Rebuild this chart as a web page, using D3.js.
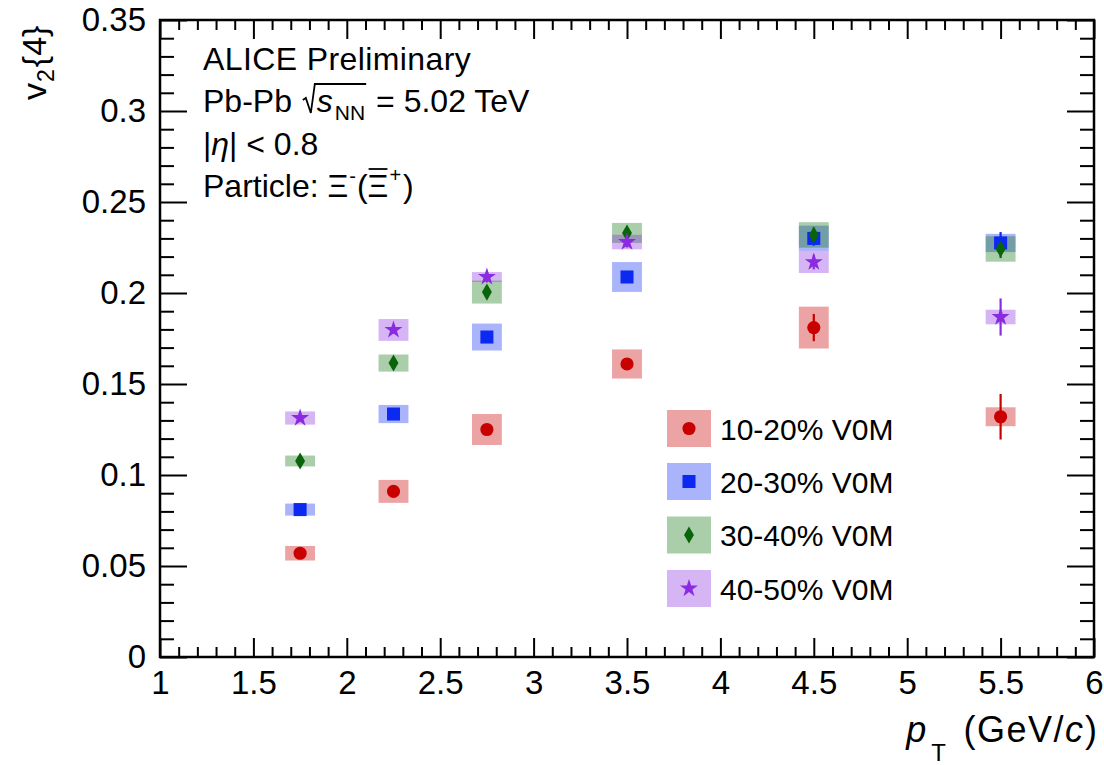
<!DOCTYPE html>
<html>
<head>
<meta charset="utf-8">
<script src="https://cdn.jsdelivr.net/npm/d3@7"></script>
<style>
  html, body { margin: 0; padding: 0; background: #fff; }
  svg { display: block; }
  text { font-family: "Liberation Sans", Arial, Helvetica, sans-serif; fill: #000; white-space: pre; }
</style>
</head>
<body>
<svg id="chart" width="1104" height="765"></svg>
<script>
// pT bin centres (GeV/c)
const ptBins = [1.75, 2.25, 2.75, 3.5, 4.5, 5.5];

// v2{4} per centrality class: central values, statistical and systematic uncertainties
const v2_10_20   = [0.057, 0.091, 0.125, 0.161, 0.181, 0.132];
const stat_10_20 = [0.002, 0.002, 0.003, 0.003, 0.0075, 0.0125];
const syst_10_20 = [0.004, 0.0063, 0.0085, 0.008, 0.0115, 0.0052];

const v2_20_30   = [0.081, 0.1335, 0.1758, 0.2088, 0.230, 0.2275];
const stat_20_30 = [0.002, 0.002, 0.003, 0.003, 0.004, 0.006];
const syst_20_30 = [0.0033, 0.005, 0.0074, 0.0082, 0.007, 0.005];

const v2_30_40   = [0.1077, 0.1615, 0.2005, 0.233, 0.2319, 0.2242];
const stat_30_40 = [0.002, 0.002, 0.003, 0.003, 0.004, 0.005];
const syst_30_40 = [0.003, 0.0047, 0.0063, 0.0055, 0.007, 0.007];

const v2_40_50   = [0.1313, 0.1797, 0.2088, 0.228, 0.217, 0.1868];
const stat_40_50 = [0.002, 0.002, 0.003, 0.003, 0.004, 0.0102];
const syst_40_50 = [0.0036, 0.006, 0.0027, 0.004, 0.006, 0.004];

const seriesLabels = ["10-20% V0M", "20-30% V0M", "30-40% V0M", "40-50% V0M"];

// axis tick values
const xMajorTicks = [1, 1.5, 2, 2.5, 3, 3.5, 4, 4.5, 5, 5.5, 6];
const xTickLabels = ["1", "1.5", "2", "2.5", "3", "3.5", "4", "4.5", "5", "5.5", "6"];
const yMajorTicks = [0, 0.05, 0.1, 0.15, 0.2, 0.25, 0.3, 0.35];
const yTickLabels = ["0", "0.05", "0.1", "0.15", "0.2", "0.25", "0.3", "0.35"];

// half width of the systematic boxes, in GeV/c
const boxHalfWidth = 0.08;

const series = [
  { label: seriesLabels[0], v: v2_10_20, stat: stat_10_20, syst: syst_10_20,
    color: "#c80000", fill: "rgba(200,0,0,0.36)", shape: "circle" },
  { label: seriesLabels[1], v: v2_20_30, stat: stat_20_30, syst: syst_20_30,
    color: "#0c29f1", fill: "rgba(12,41,241,0.35)", shape: "square" },
  { label: seriesLabels[2], v: v2_30_40, stat: stat_30_40, syst: syst_30_40,
    color: "#0a640a", fill: "rgba(20,120,20,0.36)", shape: "diamond" },
  { label: seriesLabels[3], v: v2_40_50, stat: stat_40_50, syst: syst_40_50,
    color: "#8a2be2", fill: "rgba(138,43,226,0.35)", shape: "star" }
];

const svg = d3.select("#chart");
const frame = { left: 160, right: 1094, top: 20, bottom: 657 };

const x = d3.scaleLinear().domain([1, 6]).range([frame.left, frame.right]);
const y = d3.scaleLinear().domain([0, 0.35]).range([frame.bottom, frame.top]);

const FONT = "Liberation Sans, Arial, Helvetica, sans-serif";

// ---------- marker shapes ----------
const narrowDiamond = {
  draw(ctx, size) {
    const h = Math.sqrt(size) * 0.75, w = h * 0.58;
    ctx.moveTo(0, -h); ctx.lineTo(w, 0); ctx.lineTo(0, h); ctx.lineTo(-w, 0); ctx.closePath();
  }
};
function markerPath(shape) {
  if (shape === "circle") return d3.symbol(d3.symbolCircle, 135)();
  if (shape === "square") return d3.symbol(d3.symbolSquare, 170)();
  if (shape === "diamond") return d3.symbol(narrowDiamond, 130)();
  return d3.symbol(d3.symbolStar, 100)();
}

// ---------- axes (ticks pointing into the frame, on all four sides) ----------
const xMinorTicks = d3.range(10, 61).map(d => d / 10).filter(d => !xMajorTicks.includes(d));
const yMinorTicks = d3.range(0, 36).map(d => d / 100).filter(d => !yMajorTicks.some(t => Math.abs(t - d) < 1e-9));

function styleAxis(g) {
  g.selectAll("path.domain").remove();
  g.selectAll("line").attr("stroke", "#000").attr("stroke-width", 2);
  g.selectAll("text").attr("font-family", FONT).attr("fill", "#000");
}

// bottom
svg.append("g").attr("transform", `translate(0,${frame.bottom})`)
  .call(d3.axisBottom(x).tickValues(xMajorTicks).tickSizeInner(-19).tickSizeOuter(0).tickPadding(14)
    .tickFormat((d, i) => xTickLabels[i]))
  .call(styleAxis)
  .call(g => g.selectAll("text").attr("font-size", 33));
svg.append("g").attr("transform", `translate(0,${frame.bottom})`)
  .call(d3.axisBottom(x).tickValues(xMinorTicks).tickSizeInner(-10).tickSizeOuter(0).tickFormat(""))
  .call(styleAxis);
// top
svg.append("g").attr("transform", `translate(0,${frame.top})`)
  .call(d3.axisTop(x).tickValues(xMajorTicks).tickSizeInner(-19).tickSizeOuter(0).tickFormat(""))
  .call(styleAxis);
svg.append("g").attr("transform", `translate(0,${frame.top})`)
  .call(d3.axisTop(x).tickValues(xMinorTicks).tickSizeInner(-10).tickSizeOuter(0).tickFormat(""))
  .call(styleAxis);
// left
svg.append("g").attr("transform", `translate(${frame.left},0)`)
  .call(d3.axisLeft(y).tickValues(yMajorTicks).tickSizeInner(-27).tickSizeOuter(0).tickPadding(14)
    .tickFormat((d, i) => yTickLabels[i]))
  .call(styleAxis)
  .call(g => g.selectAll("text").attr("font-size", 33));
svg.append("g").attr("transform", `translate(${frame.left},0)`)
  .call(d3.axisLeft(y).tickValues(yMinorTicks).tickSizeInner(-14).tickSizeOuter(0).tickFormat(""))
  .call(styleAxis);
// right
svg.append("g").attr("transform", `translate(${frame.right},0)`)
  .call(d3.axisRight(y).tickValues(yMajorTicks).tickSizeInner(-27).tickSizeOuter(0).tickFormat(""))
  .call(styleAxis);
svg.append("g").attr("transform", `translate(${frame.right},0)`)
  .call(d3.axisRight(y).tickValues(yMinorTicks).tickSizeInner(-14).tickSizeOuter(0).tickFormat(""))
  .call(styleAxis);

// frame
svg.append("rect")
  .attr("x", frame.left).attr("y", frame.top)
  .attr("width", frame.right - frame.left).attr("height", frame.bottom - frame.top)
  .attr("fill", "none").attr("stroke", "#000").attr("stroke-width", 2.5);

// ---------- data ----------
const plot = svg.append("g");

// systematic boxes
series.forEach(s => {
  plot.append("g").selectAll("rect")
    .data(ptBins.map((p, i) => ({ p, v: s.v[i], e: s.syst[i] })))
    .join("rect")
    .attr("x", d => x(d.p - boxHalfWidth))
    .attr("width", d => x(d.p + boxHalfWidth) - x(d.p - boxHalfWidth))
    .attr("y", d => y(d.v + d.e))
    .attr("height", d => y(d.v - d.e) - y(d.v + d.e))
    .attr("fill", s.fill);
});

// statistical error bars
series.forEach(s => {
  plot.append("g").selectAll("line")
    .data(ptBins.map((p, i) => ({ p, v: s.v[i], e: s.stat[i] })))
    .join("line")
    .attr("x1", d => x(d.p)).attr("x2", d => x(d.p))
    .attr("y1", d => y(d.v + d.e)).attr("y2", d => y(d.v - d.e))
    .attr("stroke", s.color).attr("stroke-width", 2.2);
});

// markers
series.forEach(s => {
  plot.append("g").selectAll("path")
    .data(ptBins.map((p, i) => ({ p, v: s.v[i] })))
    .join("path")
    .attr("d", markerPath(s.shape))
    .attr("transform", d => `translate(${x(d.p)},${y(d.v)})`)
    .attr("fill", s.color);
});

// ---------- rich-text helper: lays out runs left to right ----------
function runs(parent, x0, y0, pieces, baseSize) {
  let cx = x0;
  const pos = [];
  pieces.forEach(p => {
    cx += (p.gap || 0);
    const t = parent.append("text")
      .attr("x", cx).attr("y", y0 + (p.dy || 0))
      .attr("font-size", p.size || baseSize)
      .attr("font-style", p.italic ? "italic" : "normal")
      .attr("font-family", FONT)
      .attr("letter-spacing", p.spacing || 0)
      .style("white-space", "pre")
      .text(p.t);
    const w = t.node().getComputedTextLength();
    pos.push({ x: cx, w });
    cx += w;
  });
  return { end: cx, pos };
}
function measure(pieces, baseSize) {
  const tmp = svg.append("g").attr("visibility", "hidden");
  const r = runs(tmp, 0, 0, pieces, baseSize);
  tmp.remove();
  return r.end;
}

// ---------- info text ----------
const info = svg.append("g");
const TS = 32;
runs(info, 203, 70, [{ t: "ALICE Preliminary", spacing: 0.4 }], TS);

const eLine = runs(info, 203, 112, [
  { t: "Pb-Pb " },
  { t: "s", italic: true, gap: 16 },
  { t: "NN", size: 21, dy: 8, gap: 2 },
  { t: " = 5.02 TeV", gap: 2 }
], TS);
// square-root sign over s_NN
{
  const sx = eLine.pos[1].x, endX = eLine.pos[2].x + eLine.pos[2].w + 1;
  info.append("path")
    .attr("d", `M${sx - 14},${100} L${sx - 11},${98} L${sx - 6},${113} L${sx - 2},${84} L${endX},${84}`)
    .attr("fill", "none").attr("stroke", "#000").attr("stroke-width", 1.8);
}

runs(info, 203, 155, [
  { t: "|" }, { t: "η", italic: true }, { t: "| < 0.8" }
], TS);

const pLine = runs(info, 203, 197, [
  { t: "Particle: " },
  { t: "Ξ" },
  { t: "-", size: 20, dy: -14, gap: 1 },
  { t: "(", gap: 1 },
  { t: "Ξ" },
  { t: "+", size: 20, dy: -15, gap: 1 },
  { t: ")", gap: 2 }
], TS);
// anti-particle bar over the second Xi
{
  const p = pLine.pos[4];
  info.append("line")
    .attr("x1", p.x + 1).attr("x2", p.x + p.w - 1)
    .attr("y1", 169).attr("y2", 169)
    .attr("stroke", "#000").attr("stroke-width", 1.8);
}

// ---------- legend ----------
const legend = svg.append("g");
const legRowY = [428.5, 481.5, 535, 588.5];
series.forEach((s, i) => {
  const cy = legRowY[i];
  legend.append("rect")
    .attr("x", 667).attr("y", cy - 18.5).attr("width", 44).attr("height", 37)
    .attr("fill", s.fill);
  legend.append("path")
    .attr("d", markerPath(s.shape))
    .attr("transform", `translate(689,${cy})`)
    .attr("fill", s.color);
  legend.append("text")
    .attr("x", 720).attr("y", cy + 11)
    .attr("font-size", 30).attr("font-family", FONT)
    .text(s.label);
});

// ---------- axis titles ----------
const xTitlePieces = [
  { t: "p", italic: true, size: 36 },
  { t: "T", size: 24, dy: 19, gap: 5 },
  { t: " (GeV/", gap: 6, size: 36, spacing: 1.5 },
  { t: "c", italic: true, size: 36 },
  { t: ")", gap: 2, size: 36 }
];
const xTitleW = measure(xTitlePieces, 36);
runs(svg.append("g"), 1097 - xTitleW, 742, xTitlePieces, 36);

const yTitle = svg.append("g").attr("transform", "translate(46,100) rotate(-90)");
runs(yTitle, 0, 0, [
  { t: "v" },
  { t: "2", size: 23, dy: 8, gap: 1 },
  { t: "{4}", gap: 2 }
], 34);

// figure reference tag along the bottom edge
svg.append("text")
  .attr("x", 213).attr("y", 781)
  .attr("text-anchor", "end")
  .attr("font-size", 22).attr("font-family", FONT)
  .attr("fill", "#777")
  .text("ALI-PREL-500016");
</script>
</body>
</html>
